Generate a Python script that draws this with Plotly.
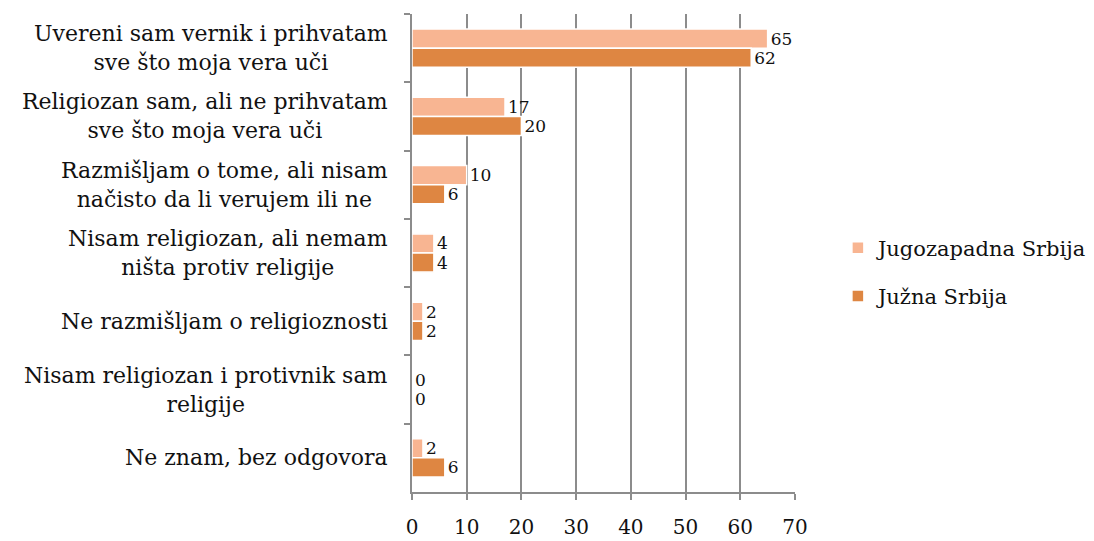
import plotly.graph_objects as go

categories = [
    "Uvereni sam vernik i prihvatam<br>sve što moja vera uči",
    "Religiozan sam, ali ne prihvatam<br>sve što moja vera uči",
    "Razmišljam o tome, ali nisam<br>načisto da li verujem ili ne",
    "Nisam religiozan, ali nemam<br>ništa protiv religije",
    "Ne razmišljam o religioznosti",
    "Nisam religiozan i protivnik sam<br>religije",
    "Ne znam, bez odgovora",
]
jugozapadna = [65, 17, 10, 4, 2, 0, 2]
juzna = [62, 20, 6, 4, 2, 0, 6]
series_names = ["Jugozapadna Srbija", "Južna Srbija"]
x_ticks = [0, 10, 20, 30, 40, 50, 60, 70]

FONT = "DejaVu Serif"
colors = ["#F8B592", "#DE8642"]

fig = go.Figure()
for name, vals, col in zip(series_names, [jugozapadna, juzna], colors):
    fig.add_trace(go.Bar(
        y=categories, x=vals, orientation="h", name=name,
        marker=dict(color=col, line=dict(color="white", width=1.5)),
        text=[str(v) for v in vals], textposition="outside",
        constraintext="none",
        textfont=dict(family=FONT, size=17, color="#111111"),
        cliponaxis=False, legendgroup=name,
    ))

for c in categories:
    fig.add_annotation(
        x=0, xref="paper", y=c, yref="y", text=c, showarrow=False,
        xanchor="right", align="center", xshift=-22,
        font=dict(family=FONT, size=22, color="#111111"),
    )

fig.update_layout(
    width=1094, height=541,
    margin=dict(l=404, r=307, t=6, b=57),
    paper_bgcolor="white", plot_bgcolor="white",
    barmode="group", bargap=0.44, bargroupgap=0.0,
    font=dict(family=FONT, size=19, color="#111111"),
    legend=dict(x=1.112, y=0.46, xanchor="left", yanchor="middle",
                traceorder="grouped", tracegroupgap=18,
                font=dict(family=FONT, size=21, color="#111111")),
)
fig.update_xaxes(
    range=[0, 70], tickvals=x_ticks, showgrid=True, gridcolor="#8C8C8C", gridwidth=1.5,
    showline=True, linecolor="#8C8C8C", linewidth=1.5, ticks="outside", ticklen=6,
    tickcolor="#8C8C8C", tickwidth=1.5, zeroline=False, ticklabelstandoff=10,
    tickfont=dict(family=FONT, size=20, color="#111111"),
)
fig.update_yaxes(
    autorange="reversed", showticklabels=False, showline=True, linecolor="#8C8C8C",
    linewidth=1.5, ticks="outside", tickson="boundaries", ticklen=6,
    tickcolor="#8C8C8C", tickwidth=1.5, showgrid=False,
)

fig.write_html("out.html")
